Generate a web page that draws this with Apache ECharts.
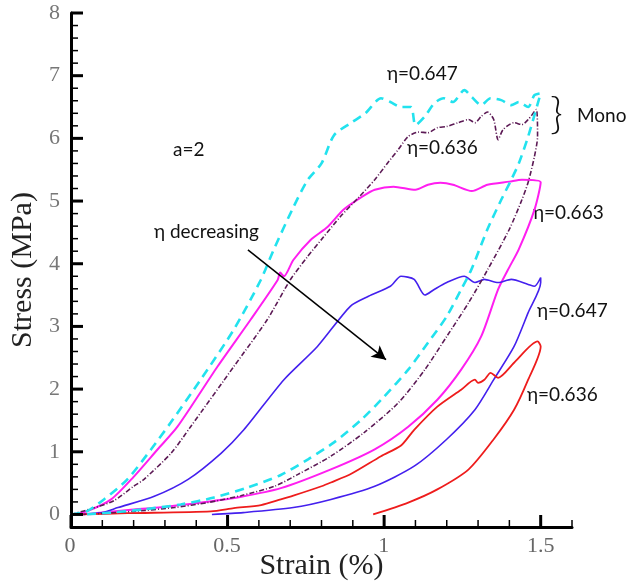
<!DOCTYPE html>
<html>
<head>
<meta charset="utf-8">
<script src="https://cdn.jsdelivr.net/npm/echarts@6/dist/echarts.min.js"></script>
<style>html,body{margin:0;padding:0;background:#fff}#c{width:632px;height:586px}</style>
</head>
<body>
<div id="c"></div>
<script>
// ---- tick labels ----
var strainTicks = [0, 0.5, 1, 1.5];
var stressTicks = [0, 1, 2, 3, 4, 5, 6, 7, 8];

// ---- Mono, eta = 0.647 (cyan dashed) ----
var cyanStrain = [0, 0.05, 0.105, 0.18, 0.256, 0.319, 0.414, 0.52, 0.606, 0.647, 0.71, 0.755, 0.8, 0.84, 0.895, 0.94, 0.99, 1.02, 1.054, 1.086, 1.1, 1.13, 1.16, 1.19, 1.22, 1.256, 1.28, 1.31, 1.34, 1.374, 1.406, 1.43, 1.46, 1.48, 1.5,
  1.46, 1.43, 1.406, 1.374, 1.33, 1.278, 1.246, 1.2, 1.14, 1.077, 1.0, 0.927, 0.84, 0.757, 0.67, 0.565, 0.457, 0.35, 0.23, 0.128, 0.04];
var cyanStress = [0, 0.05, 0.24, 0.56, 1.04, 1.47, 2.15, 2.95, 3.74, 4.22, 4.9, 5.33, 5.6, 6.05, 6.25, 6.4, 6.64, 6.58, 6.5, 6.5, 6.21, 6.35, 6.56, 6.64, 6.58, 6.77, 6.66, 6.53, 6.64, 6.61, 6.53, 6.58, 6.5, 6.69, 6.72,
  6.03, 5.6, 5.34, 5.02, 4.55, 3.9, 3.59, 3.16, 2.74, 2.31, 1.88, 1.51, 1.15, 0.88, 0.63, 0.43, 0.27, 0.16, 0.08, 0.03, 0];

// ---- Mono, eta = 0.636 (purple dash-dot) ----
var purpleStrain = [0, 0.07, 0.137, 0.2, 0.233, 0.32, 0.382, 0.52, 0.627, 0.7, 0.755, 0.807, 0.86, 0.917, 0.97, 1.01, 1.045, 1.077, 1.11, 1.14, 1.17, 1.2, 1.236, 1.27, 1.29, 1.31, 1.33, 1.35, 1.364, 1.38, 1.415, 1.44, 1.46, 1.486, 1.49,
  1.48, 1.46, 1.44, 1.40, 1.33, 1.27, 1.2, 1.13, 1.045, 0.937, 0.83, 0.725, 0.65, 0.543, 0.437, 0.33, 0.2, 0.04];
var purpleStress = [0, 0.1, 0.22, 0.45, 0.56, 0.98, 1.4, 2.36, 3.11, 3.74, 4.11, 4.43, 4.75, 5.05, 5.34, 5.6, 5.82, 6.03, 6.1, 6.09, 6.17, 6.19, 6.25, 6.3, 6.25, 6.35, 6.42, 6.3, 5.98, 6.14, 6.25, 6.22, 6.3, 6.46, 6.03,
  5.71, 5.3, 5.02, 4.55, 3.9, 3.38, 2.84, 2.31, 1.78, 1.31, 0.93, 0.64, 0.45, 0.3, 0.19, 0.11, 0.05, 0];

// ---- eta = 0.663 (magenta) ----
var magentaStrain = [0, 0.05, 0.128, 0.2, 0.277, 0.34, 0.468, 0.574, 0.66, 0.668, 0.68, 0.71, 0.765, 0.82, 0.87, 0.93, 0.97, 1.03, 1.1, 1.14, 1.18, 1.22, 1.28, 1.33, 1.4, 1.44, 1.5,
  1.48, 1.43, 1.395, 1.364, 1.31, 1.246, 1.17, 1.077, 0.97, 0.83, 0.67, 0.54, 0.415, 0.3, 0.2, 0.1, 0.03];
var magentaStress = [0, 0.05, 0.24, 0.6, 1.04, 1.4, 2.36, 3.11, 3.74, 3.86, 3.8, 4.06, 4.38, 4.59, 4.86, 5.07, 5.18, 5.23, 5.18, 5.26, 5.29, 5.26, 5.16, 5.26, 5.31, 5.34, 5.3,
  4.86, 4.23, 3.9, 3.59, 2.84, 2.31, 1.83, 1.4, 1.04, 0.72, 0.42, 0.28, 0.19, 0.12, 0.08, 0.03, 0];

// ---- eta = 0.647 (blue) ----
var blueStrain = [0.03, 0.1, 0.15, 0.266, 0.374, 0.48, 0.552, 0.68, 0.787, 0.892, 0.95, 1.02, 1.054, 1.096, 1.13, 1.16, 1.2, 1.256, 1.29, 1.32, 1.364, 1.406, 1.46, 1.48, 1.5,
  1.5, 1.46, 1.415, 1.35, 1.29, 1.2, 1.096, 0.97, 0.83, 0.71, 0.55, 0.45];
var blueStress = [0, 0.03, 0.11, 0.29, 0.56, 0.98, 1.35, 2.15, 2.68, 3.32, 3.48, 3.64, 3.8, 3.75, 3.5, 3.59, 3.7, 3.8, 3.7, 3.75, 3.7, 3.75, 3.67, 3.64, 3.78,
  3.7, 3.22, 2.68, 2.15, 1.67, 1.2, 0.77, 0.45, 0.24, 0.11, 0.03, 0];

// ---- eta = 0.636 (red) ----
var redStrain = [0.03, 0.18, 0.447, 0.52, 0.607, 0.67, 0.71, 0.8, 0.83, 0.895, 0.99, 1.054, 1.096, 1.17, 1.246, 1.29, 1.3, 1.32, 1.34, 1.364, 1.415, 1.49,
  1.5, 1.46, 1.415, 1.35, 1.27, 1.17, 1.077, 0.965];
var redStress = [0, 0.02, 0.05, 0.1, 0.15, 0.24, 0.3, 0.45, 0.51, 0.65, 0.93, 1.1, 1.35, 1.72, 1.99, 2.15, 2.1, 2.15, 2.26, 2.18, 2.42, 2.76,
  2.68, 2.15, 1.67, 1.2, 0.72, 0.4, 0.19, 0];

// ---- arrow "eta decreasing" (data coords) ----
var arrowFrom = [0.565, 4.22];
var arrowTo = [1.006, 2.47];

function pairs(xs, ys) { var o = []; for (var i = 0; i < xs.length; i++) o.push([xs[i], ys[i]]); return o; }

var serifFont = 'Liberation Serif';
var sansFont = 'Lato';

var yMin = -0.2, yMax = 8, xMin = 0, xMax = 1.6;

// tick marks (major from tick label arrays, minor every 0.1 strain / 0.2 stress)
var tickData = [];
(function () {
  var i, v;
  for (i = 1; i <= 16; i++) { v = +(i * 0.1).toFixed(2); if (strainTicks.indexOf(v) < 0) tickData.push([v, 0, 0]); }
  for (i = 1; i < 40; i++) { v = +(i * 0.2).toFixed(2); if (stressTicks.indexOf(v) < 0) tickData.push([v, 1, 0]); }
  strainTicks.forEach(function (t) { tickData.push([t, 0, 1]); });
  stressTicks.forEach(function (t) { tickData.push([t, 1, 1]); });
})();

var chart = echarts.init(document.getElementById('c'));

function lineSeries(name, data, color, width, type, z) {
  return {
    name: name, type: 'line', data: data, showSymbol: false, symbol: 'none', z: z || 2,
    smooth: 0.25,
    xAxisIndex: 0, yAxisIndex: 0,
    lineStyle: { color: color, width: width, type: type },
    animation: false, silent: true
  };
}

var series = [
  lineSeries('Mono 0.636', pairs(purpleStrain, purpleStress), '#5c1a55', 1.6, [5, 2, 1, 2], 3),
  lineSeries('0.663', pairs(magentaStrain, magentaStress), '#ff1ef0', 2, 'solid', 2),
  lineSeries('0.647', pairs(blueStrain, blueStress), '#4420ee', 1.6, 'solid', 2),
  lineSeries('0.636', pairs(redStrain, redStress), '#ee1c1c', 1.8, 'solid', 2),
  lineSeries('Mono 0.647', pairs(cyanStrain, cyanStress), '#22e2ee', 2.6, [9, 6], 4)
];
series[3].markLine = {
  silent: true, animation: false,
  symbol: ['none', 'arrow'], symbolSize: [11, 14],
  label: { show: false },
  lineStyle: { color: '#000', width: 1.5, type: 'solid' },
  data: [[{ coord: arrowFrom }, { coord: arrowTo }]]
};

// geometry of main grid
var G = { left: 70, right: 60, top: 13, bottom: 59 };
var H = 586 - G.top - G.bottom, W = 632 - G.left - G.right;
var zeroOffset = H * (0 - yMin) / (yMax - yMin);           // px between x-axis line and stress 0
var rightMajor = W * (xMax - 1.5) / (xMax - xMin);          // px between 1.5 and axis end

var texts = [
  { type: 'text', left: 173, top: 140, style: { text: 'a=2', font: '19px ' + sansFont, fill: '#111' } },
  { type: 'text', left: 154, top: 222, style: { text: 'η decreasing', font: '19px ' + sansFont, fill: '#111' } },
  { type: 'text', left: 387, top: 64, style: { text: 'η=0.647', font: '19px ' + sansFont, fill: '#111' } },
  { type: 'text', left: 407, top: 138, style: { text: 'η=0.636', font: '19px ' + sansFont, fill: '#111' } },
  { type: 'text', left: 550, top: 93, style: { text: '}', font: '300 44px ' + sansFont, fill: '#111' } },
  { type: 'text', left: 577, top: 106, style: { text: 'Mono', font: '19px ' + sansFont, fill: '#111' } },
  { type: 'text', left: 533, top: 203, style: { text: 'η=0.663', font: '19px ' + sansFont, fill: '#111' } },
  { type: 'text', left: 537, top: 301, style: { text: 'η=0.647', font: '19px ' + sansFont, fill: '#111' } },
  { type: 'text', left: 527, top: 385, style: { text: 'η=0.636', font: '19px ' + sansFont, fill: '#111' } }
];

var option = {
  animation: false,
  grid: [
    { left: G.left, right: G.right, top: G.top, bottom: G.bottom },
    { left: G.left, right: G.right + rightMajor, top: G.top, bottom: G.bottom + zeroOffset }
  ],
  xAxis: [
    {
      gridIndex: 0, type: 'value', min: xMin, max: xMax, interval: 0.1,
      axisLine: { show: true, onZero: false, lineStyle: { color: '#000', width: 3 } },
      axisTick: { show: false },
      axisLabel: { show: false },
      splitLine: { show: false },
      name: 'Strain (%)', nameLocation: 'middle', nameGap: 24,
      nameTextStyle: { fontFamily: serifFont, fontSize: 30, color: '#222', verticalAlign: 'top' }
    },
    {
      gridIndex: 1, type: 'value', min: 0, max: 1.5, interval: 0.5, offset: zeroOffset,
      axisLine: { show: false, onZero: false },
      axisTick: { show: false },
      axisLabel: { show: true, margin: 8, fontFamily: serifFont, fontSize: 22, color: '#666',
        formatter: function (v) { return strainTicks.indexOf(v) >= 0 ? String(v) : ''; } },
      splitLine: { show: false }
    }
  ],
  yAxis: [
    {
      gridIndex: 0, type: 'value', min: yMin, max: yMax, interval: 0.2,
      axisLine: { show: true, onZero: false, lineStyle: { color: '#000', width: 3 } },
      axisTick: { show: false },
      axisLabel: { show: false },
      splitLine: { show: false },
      name: 'Stress (MPa)', nameLocation: 'middle', nameRotate: 90, nameGap: 33,
      nameTextStyle: { fontFamily: serifFont, fontSize: 30, color: '#222' }
    },
    {
      gridIndex: 1, type: 'value', min: 0, max: 8, interval: 1,
      axisLine: { show: false, onZero: false },
      axisTick: { show: false },
      axisLabel: { show: true, margin: 10, fontFamily: serifFont, fontSize: 22, color: '#777',
        formatter: function (v) { return stressTicks.indexOf(v) >= 0 ? String(v) : ''; } },
      splitLine: { show: false }
    }
  ],
  series: series,
  graphic: texts
};
chart.setOption(option);

// tick marks placed through the chart's own scales
try {
  var tickShapes = [];
  tickData.forEach(function (t) {
    var v = t[0], isY = t[1], major = t[2];
    var len = major ? 12 : 7, w = major ? 3 : 1.5, p, shape;
    if (isY) { p = chart.convertToPixel({ gridIndex: 0 }, [xMin, v]); shape = { x1: p[0], y1: p[1], x2: p[0] + len, y2: p[1] }; }
    else { p = chart.convertToPixel({ gridIndex: 0 }, [v, yMin]); shape = { x1: p[0], y1: p[1], x2: p[0], y2: p[1] - len }; }
    tickShapes.push({ type: 'line', silent: true, z: 10, shape: shape, style: { stroke: '#000', lineWidth: w } });
  });
  chart.setOption({ graphic: texts.concat(tickShapes) });
} catch (e) { }
</script>
</body>
</html>
